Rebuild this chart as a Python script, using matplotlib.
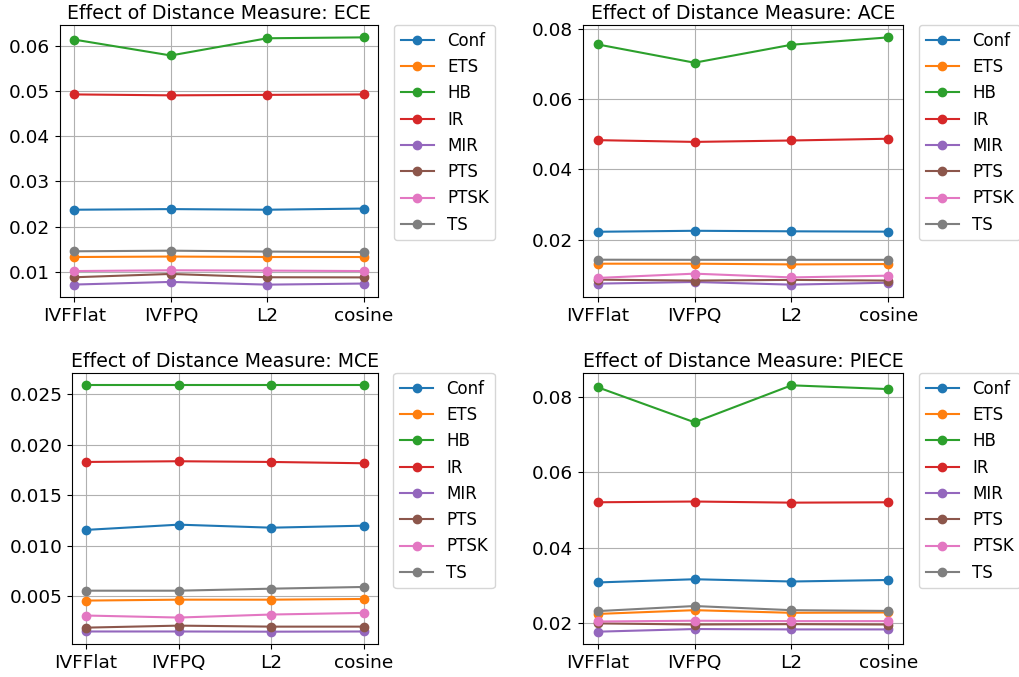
import matplotlib
matplotlib.use("Agg")
import matplotlib.pyplot as plt

measures = ["IVFFlat", "IVFPQ", "L2", "cosine"]
methods = ["Conf", "ETS", "HB", "IR", "MIR", "PTS", "PTSK", "TS"]

ece = {
    "Conf": [0.02374, 0.02388, 0.02374, 0.0240],
    "ETS": [0.0133, 0.0134, 0.0133, 0.0133],
    "HB": [0.0613, 0.0578, 0.0616, 0.0618],
    "IR": [0.0492, 0.0490, 0.0491, 0.0492],
    "MIR": [0.00722, 0.0078, 0.0072, 0.00744],
    "PTS": [0.00883, 0.00956, 0.00883, 0.0088],
    "PTSK": [0.0102, 0.01037, 0.0103, 0.0102],
    "TS": [0.01456, 0.0147, 0.0145, 0.0144],
}

ace = {
    "Conf": [0.02227, 0.02255, 0.0224, 0.0223],
    "ETS": [0.0132, 0.0132, 0.0130, 0.0131],
    "HB": [0.0755, 0.0703, 0.0754, 0.0775],
    "IR": [0.0483, 0.0478, 0.0482, 0.0487],
    "MIR": [0.00754, 0.0080, 0.00725, 0.0078],
    "PTS": [0.00867, 0.0084, 0.0086, 0.0084],
    "PTSK": [0.00915, 0.01037, 0.0093, 0.0098],
    "TS": [0.01433, 0.0143, 0.0143, 0.0143],
}

mce = {
    "Conf": [0.01158, 0.0121, 0.0118, 0.0120],
    "ETS": [0.00458, 0.00467, 0.00467, 0.00474],
    "HB": [0.0259, 0.0259, 0.0259, 0.0259],
    "IR": [0.01831, 0.01838, 0.01831, 0.01818],
    "MIR": [0.00152, 0.00152, 0.0015, 0.00152],
    "PTS": [0.0019, 0.0021, 0.0020, 0.0020],
    "PTSK": [0.0031, 0.0029, 0.0032, 0.00336],
    "TS": [0.00556, 0.00556, 0.00576, 0.00593],
}

piece = {
    "Conf": [0.03085, 0.0317, 0.0311, 0.0315],
    "ETS": [0.0225, 0.0235, 0.0228, 0.0229],
    "HB": [0.0826, 0.0733, 0.0831, 0.0821],
    "IR": [0.0521, 0.0523, 0.0520, 0.0521],
    "MIR": [0.0178, 0.0185, 0.0184, 0.0184],
    "PTS": [0.0200, 0.0197, 0.0198, 0.0197],
    "PTSK": [0.0205, 0.0207, 0.0206, 0.0206],
    "TS": [0.02325, 0.0246, 0.0235, 0.0233],
}

panels = [("ECE", ece), ("ACE", ace), ("MCE", mce), ("PIECE", piece)]

W, H = 1020, 677
# axes boxes in pixels: left, top, right, bottom
boxes = [(60, 25, 378, 297), (583, 25, 903, 297),
         (72, 373, 378, 644), (583, 373, 903, 644)]

fig = plt.figure(figsize=(10.2, 6.77), dpi=100)

for (l, t, r, b), (name, data) in zip(boxes, panels):
    ax = fig.add_axes([l / W, 1 - b / H, (r - l) / W, (b - t) / H])
    for m in methods:
        ax.plot(measures, data[m], marker="o", label=m)
    ax.set_title("Effect of Distance Measure: " + name, fontsize=13.6, pad=4)
    ax.tick_params(labelsize=13.3)
    ax.grid(True)
    ax.legend(loc="upper left", bbox_to_anchor=(1.05, 1), fontsize=11.95,
              borderaxespad=0.0)

fig.savefig("out.png")
